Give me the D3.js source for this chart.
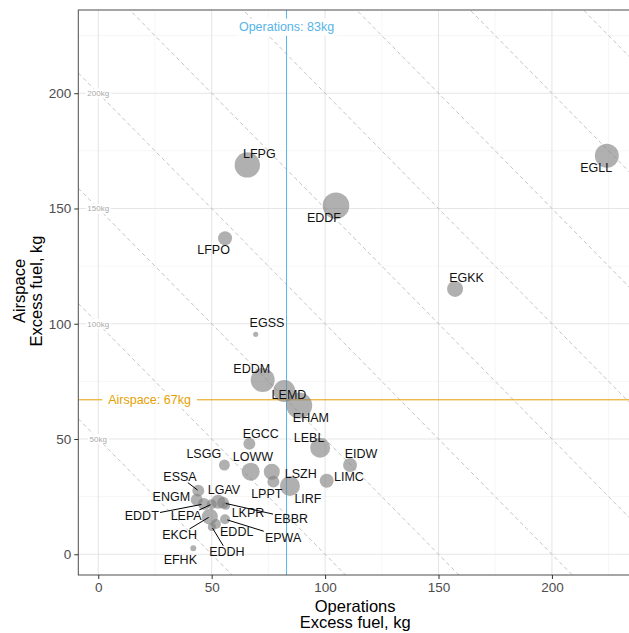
<!DOCTYPE html>
<html>
<head>
<meta charset="utf-8">
<script src="https://cdn.jsdelivr.net/npm/d3@7"></script>
<style>
body { margin: 0; background: #fff; }
text { font-family: "Liberation Sans", Arial, sans-serif; }
</style>
</head>
<body>
<script>
/*
* Dati: eccesso di carburante per aeroporto (operazioni vs spazio aereo) e traffico
*/
var airports = ["EGLL","LFPG","EDDF","LFPO","EGKK","EGSS","EDDM","LEMD","EHAM","LEBL",
                "EGCC","EIDW","LSGG","LOWW","LSZH","LPPT","LIRF","LIMC","ESSA","ENGM",
                "EDDT","LEPA","LGAV","EBBR","LKPR","EKCH","EDDL","EPWA","EDDH","EFHK"];
var opsFuel = [224.2, 65.7, 104.8, 55.9, 157.3, 69.4, 72.5, 82.0, 88.6, 97.8,
               66.6, 111.0, 55.6, 67.2, 76.5, 77.2, 84.5, 100.7, 44.1, 43.4,
               46.6, 50.0, 52.9, 55.0, 56.3, 49.2, 51.9, 55.9, 50.1, 41.9];
var airspaceFuel = [172.9, 168.9, 151.2, 137.1, 115.1, 95.4, 75.6, 70.8, 64.5, 46.2,
                    47.9, 38.7, 38.7, 35.8, 35.8, 31.5, 29.6, 31.9, 27.6, 23.6,
                    21.8, 21.7, 22.8, 22.3, 21.0, 16.3, 13.1, 15.2, 11.8, 2.6];
var flights = [197, 221, 243, 67, 88, 9, 197, 166, 232, 137,
               49, 67, 41, 111, 88, 49, 137, 67, 49, 49,
               49, 34, 67, 49, 22, 88, 34, 34, 22, 12];

var isoLevels = [50, 100, 150, 200, 250, 300, 350, 400, 450];
var isoLabelled = [50, 100, 150, 200];
var opsRef = 83;
var airspaceRef = 67;
var xTicks = [0, 50, 100, 150, 200];
var yTicks = [0, 50, 100, 150, 200];
var xMinor = [25, 75, 125, 175, 225];
var yMinor = [25, 75, 125, 175, 225];

// spostamenti delle etichette (px) come li ha messi ggrepel, e quali hanno il segmento
var labelShift = {
    EGLL:[-10.7,12], LFPG:[12,-11], EDDF:[-12,11.6], LFPO:[-11.5,11.7], EGKK:[11.5,-11.7],
    EGSS:[11.3,-11.6], EDDM:[-11,-11], LEMD:[4.7,4], EHAM:[11.7,11.6], LEBL:[-11,-10.4],
    EGCC:[11.4,-10.7], EIDW:[11,-11], LSGG:[-20.6,-11], LOWW:[2.3,-15], LSZH:[29,2.3],
    LPPT:[-6.6,11.6], LIRF:[18,12.3], LIMC:[22.3,-4], ESSA:[-18.3,-14], ENGM:[-25.4,-3.3],
    EDDT:[-62.2,12], LEPA:[-25.5,11.7], LGAV:[5.7,-11.7], EBBR:[68,15.3], LKPR:[22,6.7],
    EKCH:[-30.3,18.3], EDDL:[20.7,7.7], EPWA:[58,18], EDDH:[15,24.7], EFHK:[-13,11]
};
var withSegment = ["ESSA","EDDT","LEPA","EBBR","EKCH","EPWA","EDDH"];

var data = airports.map(function(a, i) {
    return {code: a, ops: opsFuel[i], air: airspaceFuel[i], n: flights[i]};
});

var width = 629, height = 633;
var panel = {left: 78.3, right: 632, top: 10, bottom: 575};

var svg = d3.select("body").append("svg")
    .attr("width", width)
    .attr("height", height);

var x = d3.scaleLinear().domain([-8.8, 235.3]).range([panel.left, panel.right]);
var y = d3.scaleLinear().domain([-9, 236.1]).range([panel.bottom, panel.top]);
var r = d3.scaleSqrt().domain([0, 250]).range([0, 13.5]);

svg.append("clipPath").attr("id", "clip")
    .append("rect")
    .attr("x", panel.left).attr("y", panel.top)
    .attr("width", panel.right - panel.left)
    .attr("height", panel.bottom - panel.top);

var plot = svg.append("g").attr("clip-path", "url(#clip)");

// griglia
plot.selectAll(".vminor").data(xMinor).enter().append("line")
    .attr("x1", function(d) { return x(d); }).attr("x2", function(d) { return x(d); })
    .attr("y1", panel.top).attr("y2", panel.bottom)
    .attr("stroke", "#f0f0f0").attr("stroke-width", 0.6);
plot.selectAll(".hminor").data(yMinor).enter().append("line")
    .attr("y1", function(d) { return y(d); }).attr("y2", function(d) { return y(d); })
    .attr("x1", panel.left).attr("x2", panel.right)
    .attr("stroke", "#f0f0f0").attr("stroke-width", 0.6);
plot.selectAll(".vmajor").data(xTicks).enter().append("line")
    .attr("x1", function(d) { return x(d); }).attr("x2", function(d) { return x(d); })
    .attr("y1", panel.top).attr("y2", panel.bottom)
    .attr("stroke", "#e6e6e6").attr("stroke-width", 1.1);
plot.selectAll(".hmajor").data(yTicks).enter().append("line")
    .attr("y1", function(d) { return y(d); }).attr("y2", function(d) { return y(d); })
    .attr("x1", panel.left).attr("x2", panel.right)
    .attr("stroke", "#e6e6e6").attr("stroke-width", 1.1);

// linee iso-carburante x + y = c
var xd = x.domain();
plot.selectAll(".iso").data(isoLevels).enter().append("line")
    .attr("x1", x(xd[0])).attr("y1", function(d) { return y(d - xd[0]); })
    .attr("x2", x(xd[1])).attr("y2", function(d) { return y(d - xd[1]); })
    .attr("stroke", "#b5b5b5").attr("stroke-width", 0.8)
    .attr("stroke-dasharray", "4,3");

// linee di riferimento
plot.append("line")
    .attr("x1", x(opsRef)).attr("x2", x(opsRef))
    .attr("y1", panel.top).attr("y2", panel.bottom)
    .attr("stroke", "#56B4E9").attr("stroke-width", 1);
plot.append("line")
    .attr("y1", y(airspaceRef)).attr("y2", y(airspaceRef))
    .attr("x1", panel.left).attr("x2", panel.right)
    .attr("stroke", "#E69F00").attr("stroke-width", 1);

// etichette con sfondo bianco
function boxLabel(g, px, py, txt, size, color, padX, padY) {
    var t = g.append("text")
        .attr("x", px).attr("y", py)
        .attr("dy", "0.35em")
        .attr("text-anchor", "middle")
        .attr("font-size", size)
        .attr("fill", color)
        .text(txt);
    var b = t.node().getBBox();
    g.insert("rect", function() { return t.node(); })
        .attr("x", b.x - padX).attr("y", b.y - padY)
        .attr("width", b.width + 2 * padX).attr("height", b.height + 2 * padY)
        .attr("fill", "#fff");
}

var isoG = plot.append("g");
isoLabelled.forEach(function(c) {
    boxLabel(isoG, x(0), y(c), c + "kg", 8, "#aaaaaa", 1.5, 0.5);
});

// punti
plot.selectAll(".pt").data(data).enter().append("circle")
    .attr("cx", function(d) { return x(d.ops); })
    .attr("cy", function(d) { return y(d.air); })
    .attr("r", function(d) { return r(d.n); })
    .attr("fill", "#808080")
    .attr("fill-opacity", 0.62);

var refG = plot.append("g");
boxLabel(refG, x(opsRef), y(228.8), "Operations: " + opsRef + "kg", 12.5, "#56B4E9", 3, 1.5);
boxLabel(refG, x(22.6), y(airspaceRef), "Airspace: " + airspaceRef + "kg", 12.5, "#E69F00", 6, 1.5);

// etichette aeroporti + segmenti
var labG = plot.append("g");
data.forEach(function(d) {
    var cx = x(d.ops), cy = y(d.air);
    var s = labelShift[d.code];
    var lx = cx + s[0], ly = cy + s[1];
    var t = labG.append("text")
        .attr("x", lx).attr("y", ly).attr("dy", "0.35em")
        .attr("text-anchor", "middle")
        .attr("font-size", 12.5)
        .attr("fill", "#111")
        .text(d.code);
    if (withSegment.indexOf(d.code) >= 0) {
        var b = t.node().getBBox();
        var hw = b.width / 2 + 1, hh = b.height / 2 - 1;
        var dx = cx - lx, dy = cy - ly;
        var k = Math.min(Math.abs(dx) > 0 ? hw / Math.abs(dx) : 1e9,
                         Math.abs(dy) > 0 ? hh / Math.abs(dy) : 1e9);
        labG.insert("line", function() { return t.node(); })
            .attr("x1", lx + dx * k).attr("y1", ly + dy * k)
            .attr("x2", cx - dx * 0.04).attr("y2", cy - dy * 0.04)
            .attr("stroke", "#000").attr("stroke-width", 1);
    }
});

// bordo pannello
svg.append("rect")
    .attr("x", panel.left).attr("y", panel.top)
    .attr("width", panel.right - panel.left)
    .attr("height", panel.bottom - panel.top)
    .attr("fill", "none").attr("stroke", "#4d4d4d").attr("stroke-width", 1);

// assi
var xAxis = svg.append("g")
    .attr("transform", "translate(0," + panel.bottom + ")")
    .call(d3.axisBottom(x).tickValues(xTicks).tickSize(4).tickPadding(3));
var yAxis = svg.append("g")
    .attr("transform", "translate(" + panel.left + ",0)")
    .call(d3.axisLeft(y).tickValues(yTicks).tickSize(4).tickPadding(3));
[xAxis, yAxis].forEach(function(a) {
    a.select(".domain").remove();
    a.selectAll(".tick line").attr("stroke", "#333");
    a.selectAll(".tick text")
        .attr("fill", "#4d4d4d")
        .attr("font-size", 13.5)
        .attr("font-family", "Liberation Sans, Arial, sans-serif");
});

// titoli
var cxTitle = (panel.left + panel.right) / 2;
svg.append("text").attr("x", cxTitle).attr("y", 611.5)
    .attr("text-anchor", "middle").attr("font-size", 16.5).text("Operations");
svg.append("text").attr("x", cxTitle).attr("y", 627.5)
    .attr("text-anchor", "middle").attr("font-size", 16.5).text("Excess fuel, kg");

var cyTitle = 291;
svg.append("text")
    .attr("transform", "translate(24.5," + cyTitle + ") rotate(-90)")
    .attr("text-anchor", "middle").attr("font-size", 16.5).text("Airspace");
svg.append("text")
    .attr("transform", "translate(41.5," + cyTitle + ") rotate(-90)")
    .attr("text-anchor", "middle").attr("font-size", 16.5).text("Excess fuel, kg");
</script>
</body>
</html>
